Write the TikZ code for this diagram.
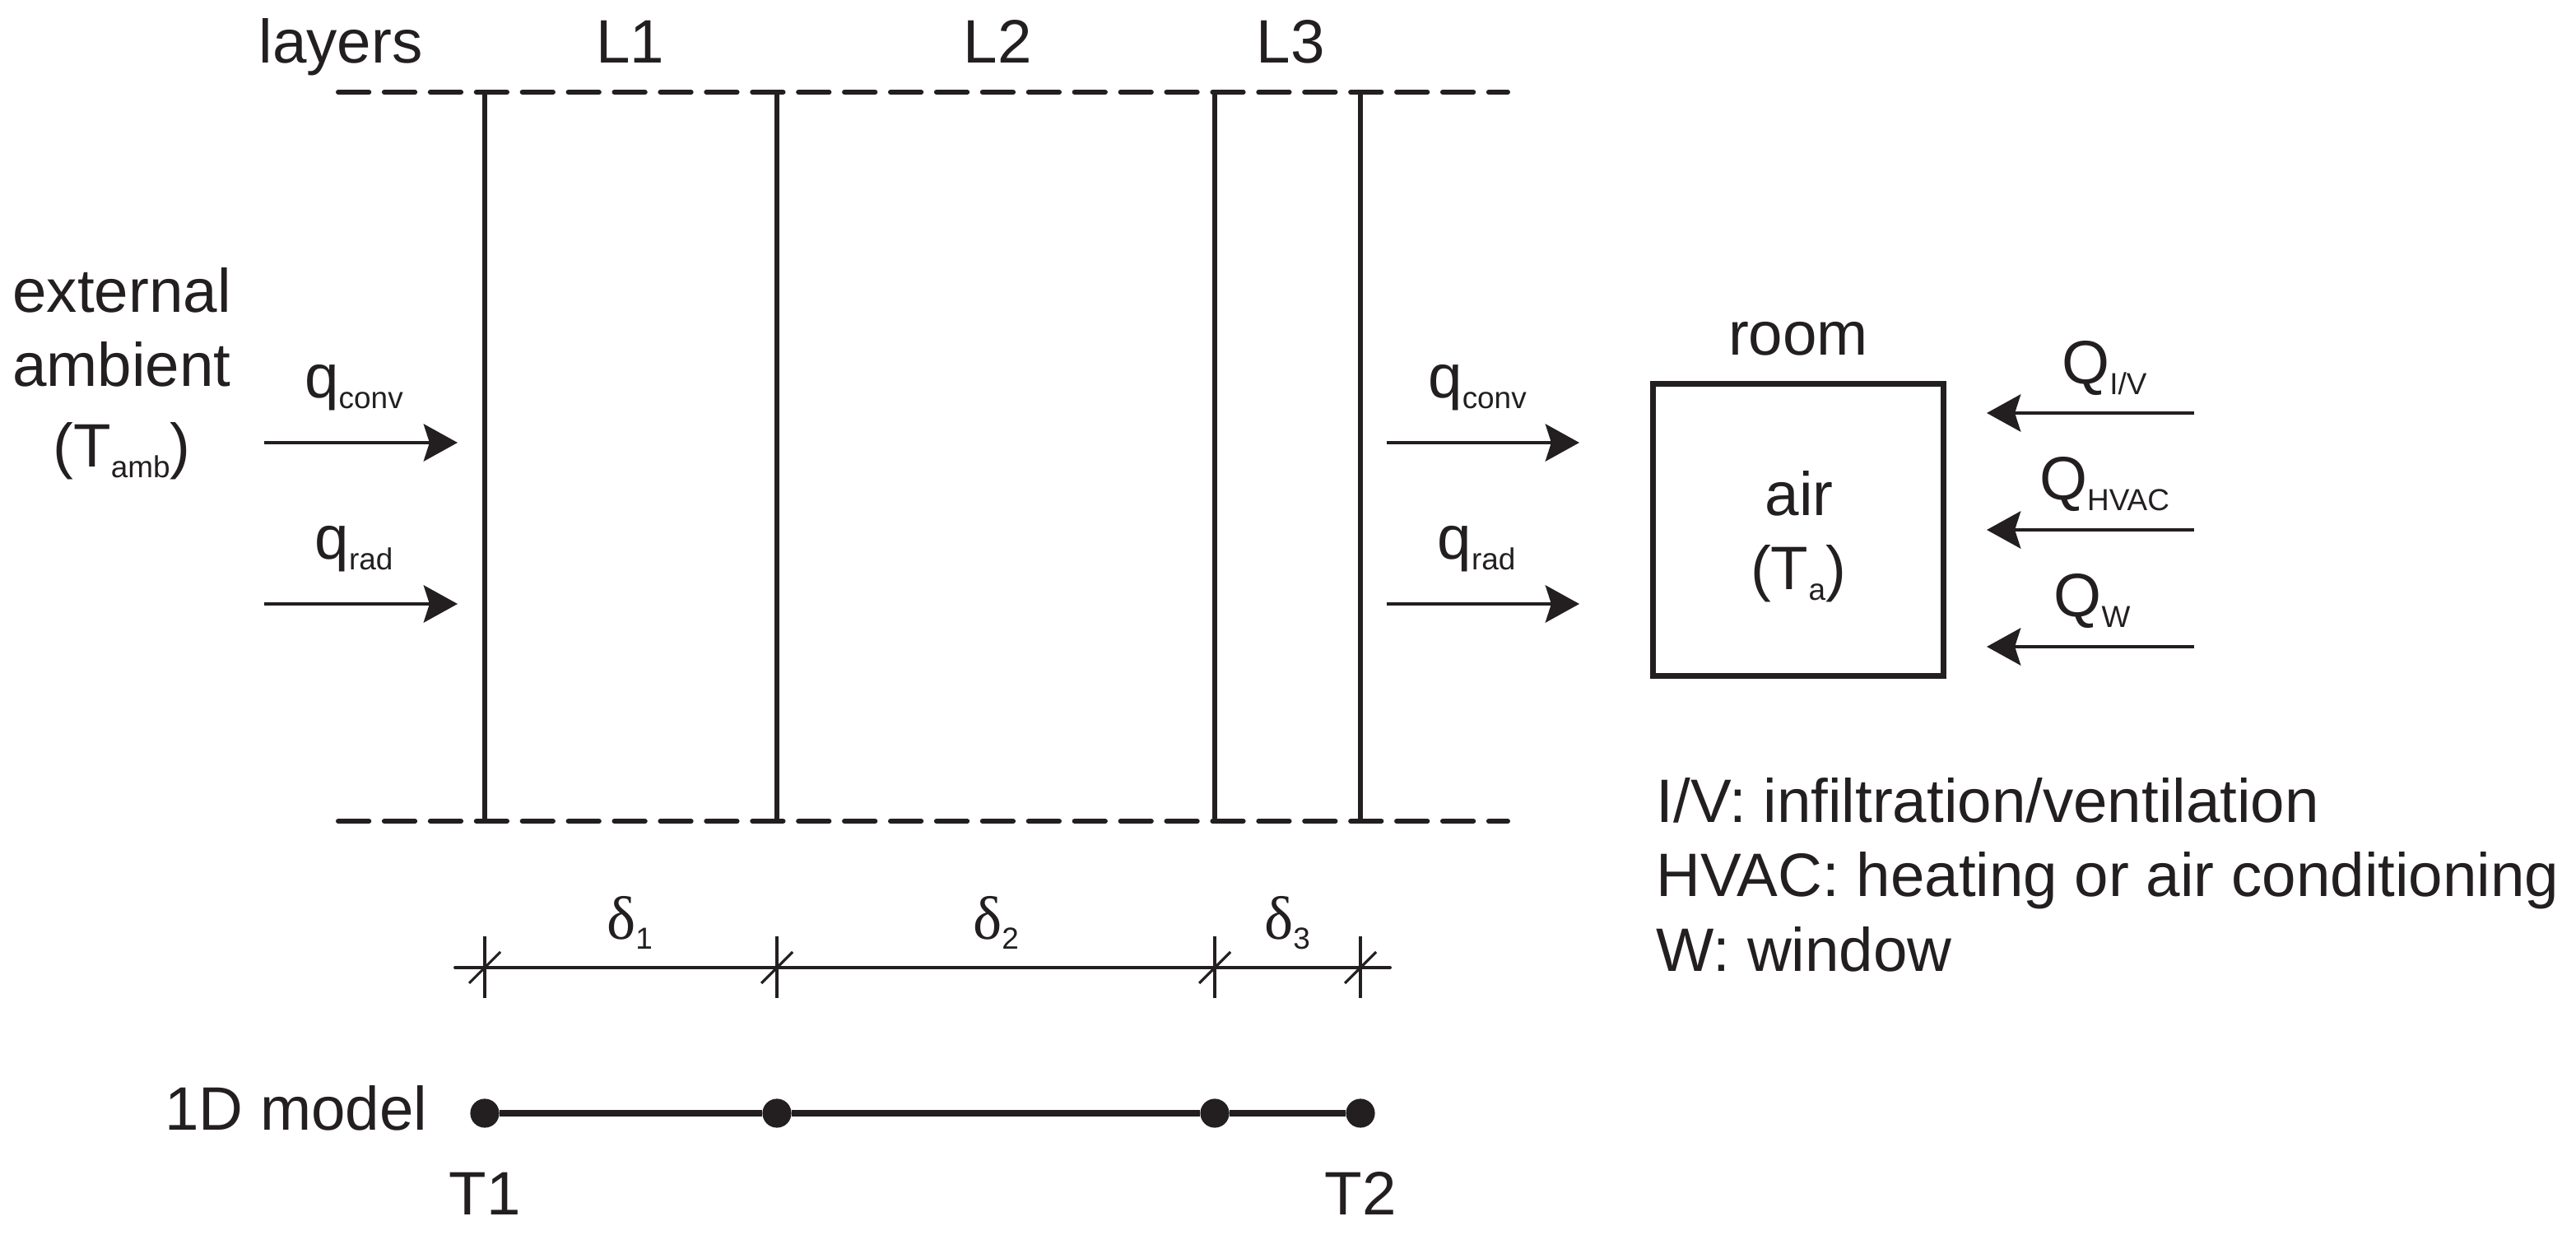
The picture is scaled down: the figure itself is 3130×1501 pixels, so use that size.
\documentclass[tikz,border=0pt]{standalone}
\usepackage{fontspec}
\setmainfont{Liberation Sans}
\newfontfamily\greekfont{Liberation Serif}
\usetikzlibrary{arrows.meta}
\definecolor{inkc}{HTML}{231F20}
\newcommand{\lowtxt}[1]{\raisebox{-0.33ex}{\fontsize{10.5}{10.5}\selectfont #1}}
\tikzset{
    txt/.style={anchor=base,inner sep=0pt,text=inkc,font=\fontsize{21.2}{24}\selectfont},
    legendtxt/.style={txt,anchor=base west},
    wall/.style={draw=inkc,line width=1.9pt},
    limit/.style={draw=inkc,line width=1.7pt,line cap=round,dash pattern=on 10.6pt off 5.3pt},
    flow/.style={draw=inkc,line width=1.4pt,-{Stealth[length=11.7pt,width=12.8pt,inset=2pt]}},
    dimline/.style={draw=inkc,line width=1.1pt,line cap=round},
    tick/.style={draw=inkc,line width=0.9pt},
    modelpt/.style={circle,fill=inkc,inner sep=0pt,minimum size=10pt},
    modelline/.style={draw=inkc,line width=2pt},
}
\begin{document}
\begin{tikzpicture}[x=0.01cm,y=-0.01cm]
    \useasboundingbox (0,0) rectangle (3130,1501);
    % layers
    \coordinate (TL) at (411,112);
    \coordinate (TR) at (1832,112);
    \coordinate (BL) at (411,998);
    \coordinate (BR) at (1832,998);
    \draw[limit] (TL)--(TR);
    \draw[limit] (BL)--(BR);
    \coordinate (W1T) at (589,112);
    \coordinate (W1B) at (589,998);
    \coordinate (W2T) at (944,112);
    \coordinate (W2B) at (944,998);
    \coordinate (W3T) at (1476,112);
    \coordinate (W3B) at (1476,998);
    \coordinate (W4T) at (1653,112);
    \coordinate (W4B) at (1653,998);
    \draw[wall] (W1T)--(W1B);
    \draw[wall] (W2T)--(W2B);
    \draw[wall] (W3T)--(W3B);
    \draw[wall] (W4T)--(W4B);
    \node[txt] (LAY) at (414,77) {layers};
    \node[txt] (L1) at (766,77) {L1};
    \node[txt] (L2) at (1212,77) {L2};
    \node[txt] (L3) at (1568,77) {L3};
    % external side
    \node[txt] (EXT) at (148,380) {external};
    \node[txt] (AMB) at (148,470) {ambient};
    \node[txt] (TAMB) at (148,568) {(T\lowtxt{amb})};
    \coordinate (C1A) at (321,538);
    \coordinate (C1B) at (556,538);
    \coordinate (R1A) at (321,734);
    \coordinate (R1B) at (556,734);
    \draw[flow] (C1A)--(C1B);
    \draw[flow] (R1A)--(R1B);
    \node[txt] (QC1) at (430,484) {q\lowtxt{conv}};
    \node[txt] (QR1) at (430,680) {q\lowtxt{rad}};
    % room side
    \coordinate (C2A) at (1685,538);
    \coordinate (C2B) at (1919,538);
    \coordinate (R2A) at (1685,734);
    \coordinate (R2B) at (1919,734);
    \draw[flow] (C2A)--(C2B);
    \draw[flow] (R2A)--(R2B);
    \node[txt] (QC2) at (1795,484) {q\lowtxt{conv}};
    \node[txt] (QR2) at (1794,680) {q\lowtxt{rad}};
    \node[draw=inkc,line width=2pt,minimum width=3.52cm,minimum height=3.55cm,inner sep=0pt] (ROOM) at (2185,644) {};
    \node[txt] (RL) at (2185,432) {room};
    \node[txt] (AIR) at (2186,627) {air};
    \node[txt] (TA) at (2185,717) {(T\lowtxt{a})};
    \coordinate (QIA) at (2666,502);
    \coordinate (QIB) at (2414,502);
    \coordinate (QHA) at (2666,644);
    \coordinate (QHB) at (2414,644);
    \coordinate (QWA) at (2666,786);
    \coordinate (QWB) at (2414,786);
    \draw[flow] (QIA)--(QIB);
    \draw[flow] (QHA)--(QHB);
    \draw[flow] (QWA)--(QWB);
    \node[txt] (QI) at (2557,467) {Q\lowtxt{I/V}};
    \node[txt] (QH) at (2557,608) {Q\lowtxt{HVAC}};
    \node[txt] (QW) at (2542,750) {Q\lowtxt{W}};
    \node[legendtxt] (LG1) at (2012,1000) {I/V: infiltration/ventilation};
    \node[legendtxt] (LG2) at (2012,1090) {HVAC: heating or air conditioning};
    \node[legendtxt] (LG3) at (2012,1180) {W: window};
    % thicknesses
    \coordinate (DA) at (553,1176);
    \coordinate (DB) at (1689,1176);
    \coordinate (K1) at (589,1176);
    \coordinate (K2) at (944,1176);
    \coordinate (K3) at (1476,1176);
    \coordinate (K4) at (1653,1176);
    \draw[dimline] (DA)--(DB);
    \draw[tick] ([shift={(0,-38)}]K1)--([shift={(0,37)}]K1);
    \draw[tick] ([shift={(19,-19)}]K1)--([shift={(-19,19)}]K1);
    \draw[tick] ([shift={(0,-38)}]K2)--([shift={(0,37)}]K2);
    \draw[tick] ([shift={(19,-19)}]K2)--([shift={(-19,19)}]K2);
    \draw[tick] ([shift={(0,-38)}]K3)--([shift={(0,37)}]K3);
    \draw[tick] ([shift={(19,-19)}]K3)--([shift={(-19,19)}]K3);
    \draw[tick] ([shift={(0,-38)}]K4)--([shift={(0,37)}]K4);
    \draw[tick] ([shift={(19,-19)}]K4)--([shift={(-19,19)}]K4);
    \node[txt] (D1) at (765,1141) {{\greekfont δ}\lowtxt{1}};
    \node[txt] (D2) at (1210,1141) {{\greekfont δ}\lowtxt{2}};
    \node[txt] (D3) at (1564,1141) {{\greekfont δ}\lowtxt{3}};
    % 1D model
    \node[modelpt] (N1) at (589,1353) {};
    \node[modelpt] (N2) at (944,1353) {};
    \node[modelpt] (N3) at (1476,1353) {};
    \node[modelpt] (N4) at (1653,1353) {};
    \draw[modelline] (N1)--(N2);
    \draw[modelline] (N2)--(N3);
    \draw[modelline] (N3)--(N4);
    \node[txt] (MOD) at (360,1373) {1D model};
    \node[txt] (T1) at (589,1476) {T1};
    \node[txt] (T2) at (1653,1476) {T2};
\end{tikzpicture}
\end{document}
